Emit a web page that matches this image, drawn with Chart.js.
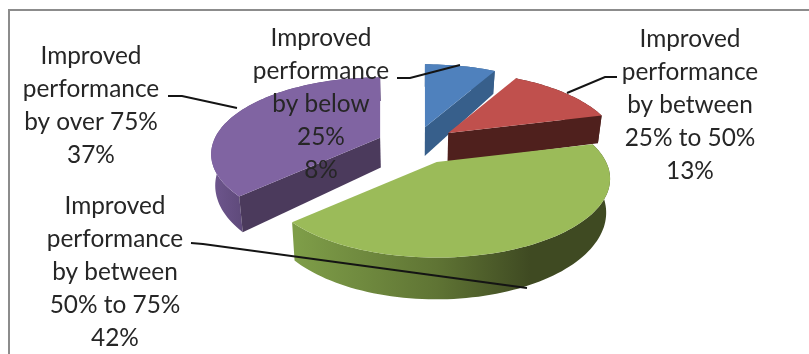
<!DOCTYPE html>
<html>
<head>
<meta charset="utf-8">
<title>Improved performance</title>
<script src="https://cdn.jsdelivr.net/npm/chart.js@4/dist/chart.umd.min.js"></script>
<style>
    html, body { margin: 0; padding: 0; background: #fff; overflow: hidden; }
    #frame { position: absolute; left: 8px; top: 9px; right: 0; bottom: 0; border-left: 2px solid #8c8c8c; border-top: 2px solid #8c8c8c; }
    canvas { position: absolute; left: 0; top: 0; }
</style>
</head>
<body>
<div id="frame"></div>
<canvas id="pie" width="809" height="354"></canvas>
<script>
const categories = [
    ['Improved', 'performance', 'by below', '25%'],
    ['Improved', 'performance', 'by between', '25% to 50%'],
    ['Improved', 'performance', 'by between', '50% to 75%'],
    ['Improved', 'performance', 'by over 75%']
];
const values = [8, 13, 42, 37];

const topColors = ['#4f81bd', '#c0504d', '#9bbb59', '#8064a2'];
const sideColors = ['#375f8b', '#4f201d', '#3f4a22', '#4b3a5c'];
const explode = [40, 42, 45, 38];
const rimScale = [1, 0.97, 0.985, 0.96];

// label centres and leader lines, in canvas pixels
const labelSpots = [
    { x: 321, y: 38 },
    { x: 690, y: 39 },
    { x: 115, y: 206 },
    { x: 91, y: 56 }
];
const leaders = [
    [[397, 78], [410, 78], [460, 65]],
    [[617, 77], [605, 77], [567, 93]],
    [[191, 243], [203, 244], [527, 288]],
    [[168, 96], [182, 96], [237, 108]]
];

const TILT = 0.444;
const PERSPECTIVE = 0.213;
const LINE_HEIGHT = 33;

function apexOf(arc) {
    const mid = (arc.startAngle + arc.endAngle) / 2;
    return {
        x: arc.x + arc.options.offset * Math.cos(mid),
        y: arc.y + arc.options.offset * Math.sin(mid) * TILT
    };
}

// rim point of a slice, nearer parts of the plate are drawn larger
function rimPoint(arc, angle, scale) {
    const apex = apexOf(arc);
    const radius = arc.outerRadius * scale;
    const depth = 1 - PERSPECTIVE * Math.sin(angle);
    return {
        x: apex.x + radius * Math.cos(angle) / depth,
        y: apex.y + radius * TILT * Math.sin(angle) / depth
    };
}

// same point on the underside of the plate
function lowered(arc, p) {
    return { x: arc.x + (p.x - arc.x) * 0.98, y: p.y + 16 + 0.1 * p.y };
}

function rimPoints(arc, scale) {
    const pts = [];
    const steps = Math.ceil((arc.endAngle - arc.startAngle) / 0.03);
    for (let i = 0; i <= steps; i++) {
        pts.push(rimPoint(arc, arc.startAngle + (arc.endAngle - arc.startAngle) * i / steps, scale));
    }
    return pts;
}

// a cut face only shows when the slice top lies above its edge
function faceShows(apex, edge, inside) {
    if (Math.abs(edge.x - apex.x) < 8) {
        return false;
    }
    const lineY = apex.y + (edge.y - apex.y) * (inside.x - apex.x) / (edge.x - apex.x);
    return inside.y < lineY;
}

function fillPath(ctx, pts, fill) {
    ctx.beginPath();
    pts.forEach((p, i) => (i ? ctx.lineTo(p.x, p.y) : ctx.moveTo(p.x, p.y)));
    ctx.closePath();
    ctx.fillStyle = fill;
    ctx.fill();
}

function rimFill(ctx, index) {
    if (index === 2) {
        const g = ctx.createLinearGradient(297, 0, 530, 0);
        g.addColorStop(0, '#7e9d48');
        g.addColorStop(0.6, '#5f7434');
        g.addColorStop(1, sideColors[2]);
        return g;
    }
    if (index === 3) {
        const g = ctx.createLinearGradient(210, 0, 242, 0);
        g.addColorStop(0, '#6f578f');
        g.addColorStop(1, '#5f4a7b');
        return g;
    }
    return sideColors[index];
}

// draws the slices as a tilted thick plate from the arc elements
const platePie = {
    id: 'platePie',
    beforeDatasetDraw(chart, args) {
        const ctx = chart.ctx;
        const arcs = args.meta.data;
        const order = arcs.map((arc, i) => i).sort((a, b) => {
            const midA = (arcs[a].startAngle + arcs[a].endAngle) / 2;
            const midB = (arcs[b].startAngle + arcs[b].endAngle) / 2;
            return Math.sin(midA) - Math.sin(midB);
        });
        ctx.save();
        order.forEach(i => {
            const arc = arcs[i];
            const apex = apexOf(arc);
            const rim = rimPoints(arc, rimScale[i]);
            const under = rim.map(p => lowered(arc, p)).reverse();
            const inside = rim[Math.floor(rim.length / 2)];
            fillPath(ctx, rim.concat(under), rimFill(ctx, i));
            [rim[0], rim[rim.length - 1]].forEach(edge => {
                if (faceShows(apex, edge, inside)) {
                    fillPath(ctx, [apex, edge, lowered(arc, edge), lowered(arc, apex)], sideColors[i]);
                }
            });
            fillPath(ctx, [apex].concat(rim), arc.options.backgroundColor);
        });
        ctx.restore();
        return false;
    },
    afterDraw(chart) {
        const ctx = chart.ctx;
        ctx.save();
        ctx.strokeStyle = '#141414';
        ctx.lineWidth = 2;
        leaders.forEach(line => {
            ctx.beginPath();
            line.forEach((p, i) => (i ? ctx.lineTo(p[0], p[1]) : ctx.moveTo(p[0], p[1])));
            ctx.stroke();
        });
        ctx.font = '24.4px Lato';
        ctx.fillStyle = '#262626';
        ctx.textAlign = 'center';
        ctx.textBaseline = 'middle';
        categories.forEach((lines, i) => {
            lines.concat(values[i] + '%').forEach((text, row) => {
                ctx.fillText(text, labelSpots[i].x, labelSpots[i].y + row * LINE_HEIGHT);
            });
        });
        ctx.restore();
    }
};

new Chart(document.getElementById('pie').getContext('2d'), {
    type: 'pie',
    data: {
        labels: categories,
        datasets: [{
            data: values,
            backgroundColor: topColors,
            borderWidth: 0,
            offset: explode
        }]
    },
    options: {
        responsive: false,
        animation: false,
        radius: 172,
        layout: { padding: { left: 21, bottom: 65 } },
        plugins: {
            legend: { display: false },
            tooltip: { enabled: false }
        }
    },
    plugins: [platePie]
});
</script>
</body>
</html>
